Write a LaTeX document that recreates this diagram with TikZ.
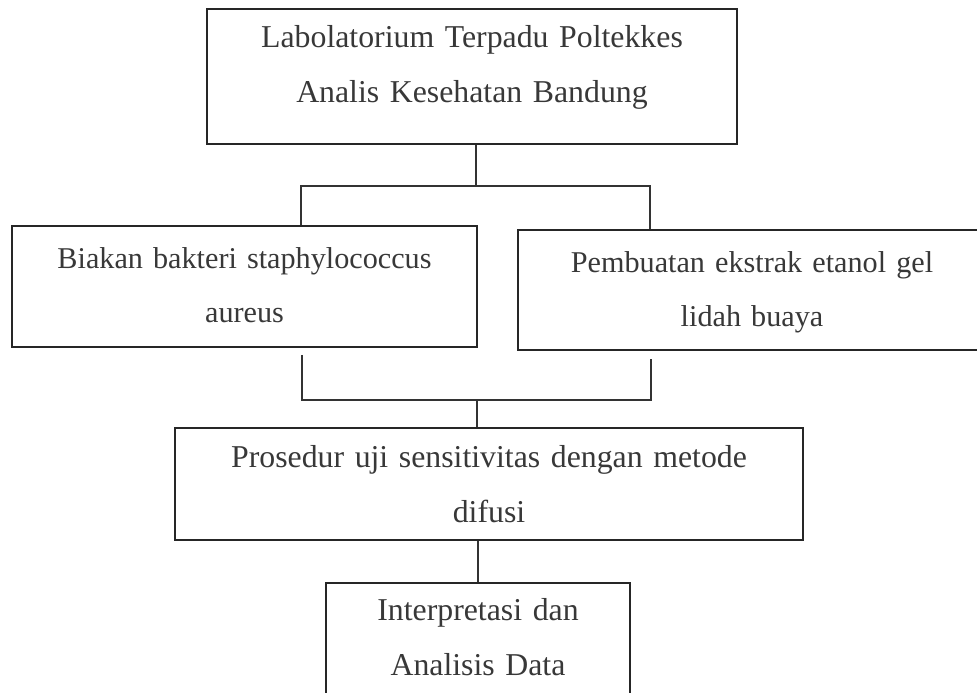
\documentclass[tikz,border=0pt]{standalone}
\usepackage{fontspec}
\setmainfont{Liberation Serif}
\usepackage{tikz}
\usetikzlibrary{positioning,calc}

\begin{document}
\begin{tikzpicture}[x=1pt, y=-1pt,
    kotak/.style={draw=black!85, line width=1.6pt, align=center, inner sep=0pt, anchor=base,
      text=black!78, font=\fontsize{31.8}{55}\selectfont},
    kecil/.style={font=\fontsize{30.2}{54}\selectfont},
    garis/.style={draw=black!80, line width=1.6pt}]
  \useasboundingbox (0,0) rectangle (977,693);
  % kotak-kotak
  \node[kotak, text width=530pt, text height=39pt, text depth=96pt] at (472,48) (lab) {Labolatorium Terpadu Poltekkes\\Analis Kesehatan Bandung};
  \node[kotak, kecil, text width=465pt, text height=42pt, text depth=79pt] at (244.5,268) (biakan) {Biakan bakteri staphylococcus\\aureus};
  \node[kotak, kecil, text width=468pt, text height=42pt, text depth=78pt] at (752,272) (ekstrak) {Pembuatan ekstrak etanol gel\\lidah buaya};
  \node[kotak, text width=628pt, text height=39pt, text depth=73pt] at (489,467) (prosedur) {Prosedur uji sensitivitas dengan metode\\difusi};
  \node[kotak, text width=304pt, text height=37pt, text depth=110pt] at (478,620) (hasil) {Interpretasi dan\\Analisis Data};
  % garis penghubung
  \coordinate (kiri1) at (301,186);
  \coordinate (kanan1) at (650,186);
  \coordinate (kiri2) at (302,400);
  \coordinate (kanan2) at (651,400);
  \coordinate (gabung) at (477,400);
  \draw[garis] ($(lab.south)+(4,0)$) -- ($(lab.south |- kiri1)+(4,0)$);
  \draw[garis] (kiri1 |- biakan.north) -- (kiri1) -- (kanan1) -- (kanan1 |- ekstrak.north);
  \draw[garis] ($(kiri2 |- biakan.south)+(0,7)$) -- (kiri2) -- (kanan2) -- ($(kanan2 |- ekstrak.south)+(0,8)$);
  \draw[garis] (gabung) -- (gabung |- prosedur.north);
  \draw[garis] (hasil.north) -- (hasil.north |- prosedur.south);
\end{tikzpicture}
\end{document}
